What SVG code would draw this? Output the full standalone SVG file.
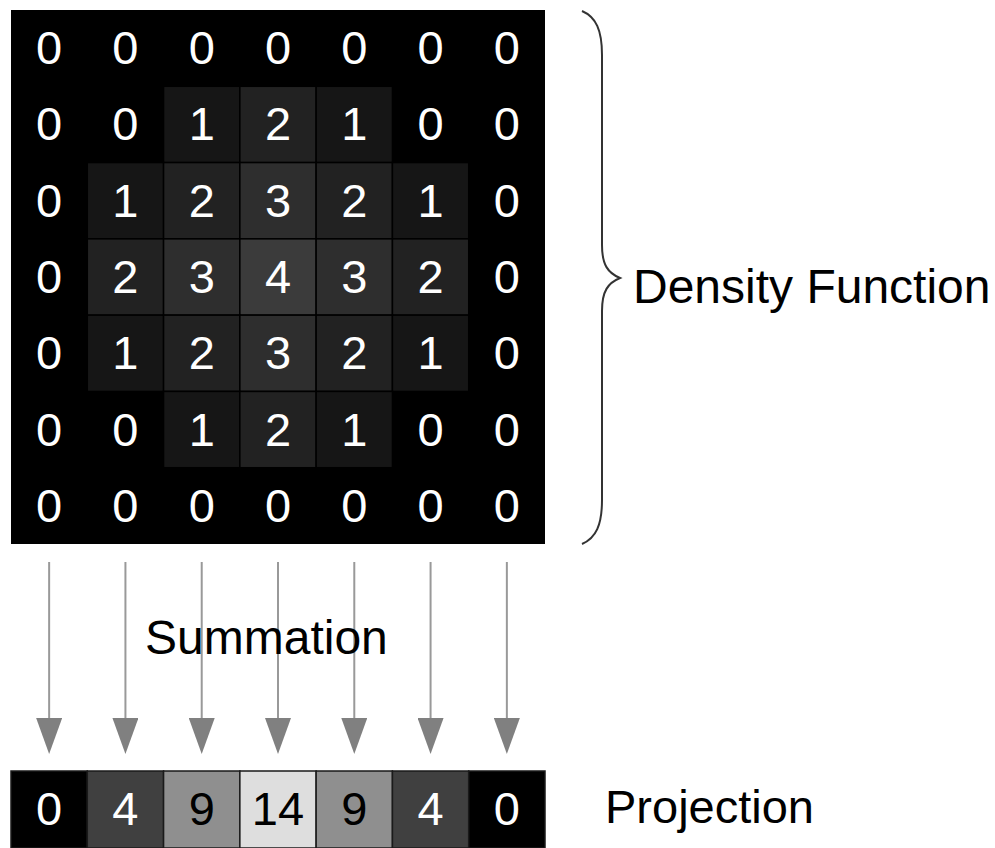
<svg xmlns="http://www.w3.org/2000/svg" width="995" height="848" viewBox="0 0 995 848">
<style>
.cell{stroke:#000;stroke-width:1.5}
.v1{fill:#161616}.v2{fill:#222222}.v3{fill:#2e2e2e}.v4{fill:#3b3b3b}
.num{font-family:"Liberation Sans",Arial,sans-serif;font-size:47px;text-anchor:middle;fill:#fff}
.dark{fill:#000}
.lbl{font-family:"Liberation Sans",Arial,sans-serif;fill:#000}
.pcell{stroke:#1a1a1a;stroke-width:1.5}
.conn{stroke:#999;stroke-width:2;fill:none;marker-end:url(#ah)}
</style>
<defs>
<marker id="ah" markerUnits="userSpaceOnUse" viewBox="0 -13 36 26" refX="0" refY="0" markerWidth="36" markerHeight="26" orient="auto">
<path d="M0,-13 L36,0 L0,13 Z" fill="#808080"/>
</marker>
</defs>
<rect x="0" y="0" width="995" height="848" fill="#fff"/>
<g id="density-grid">
<rect x="11" y="10" width="534" height="534" fill="#000"/>
<g id="r1c2"><rect class="cell v1" x="163.57" y="86.29" width="76.29" height="76.29"/></g>
<g id="r1c3"><rect class="cell v2" x="239.86" y="86.29" width="76.29" height="76.29"/></g>
<g id="r1c4"><rect class="cell v1" x="316.14" y="86.29" width="76.29" height="76.29"/></g>
<g id="r2c1"><rect class="cell v1" x="87.29" y="162.57" width="76.29" height="76.29"/></g>
<g id="r2c2"><rect class="cell v2" x="163.57" y="162.57" width="76.29" height="76.29"/></g>
<g id="r2c3"><rect class="cell v3" x="239.86" y="162.57" width="76.29" height="76.29"/></g>
<g id="r2c4"><rect class="cell v2" x="316.14" y="162.57" width="76.29" height="76.29"/></g>
<g id="r2c5"><rect class="cell v1" x="392.43" y="162.57" width="76.29" height="76.29"/></g>
<g id="r3c1"><rect class="cell v2" x="87.29" y="238.86" width="76.29" height="76.29"/></g>
<g id="r3c2"><rect class="cell v3" x="163.57" y="238.86" width="76.29" height="76.29"/></g>
<g id="r3c3"><rect class="cell v4" x="239.86" y="238.86" width="76.29" height="76.29"/></g>
<g id="r3c4"><rect class="cell v3" x="316.14" y="238.86" width="76.29" height="76.29"/></g>
<g id="r3c5"><rect class="cell v2" x="392.43" y="238.86" width="76.29" height="76.29"/></g>
<g id="r4c1"><rect class="cell v1" x="87.29" y="315.14" width="76.29" height="76.29"/></g>
<g id="r4c2"><rect class="cell v2" x="163.57" y="315.14" width="76.29" height="76.29"/></g>
<g id="r4c3"><rect class="cell v3" x="239.86" y="315.14" width="76.29" height="76.29"/></g>
<g id="r4c4"><rect class="cell v2" x="316.14" y="315.14" width="76.29" height="76.29"/></g>
<g id="r4c5"><rect class="cell v1" x="392.43" y="315.14" width="76.29" height="76.29"/></g>
<g id="r5c2"><rect class="cell v1" x="163.57" y="391.43" width="76.29" height="76.29"/></g>
<g id="r5c3"><rect class="cell v2" x="239.86" y="391.43" width="76.29" height="76.29"/></g>
<g id="r5c4"><rect class="cell v1" x="316.14" y="391.43" width="76.29" height="76.29"/></g>
<g id="grid-numbers" class="num">
<text x="49.14" y="64">0</text><text x="125.43" y="64">0</text><text x="201.71" y="64">0</text><text x="278" y="64">0</text><text x="354.29" y="64">0</text><text x="430.57" y="64">0</text><text x="506.86" y="64">0</text>
<text x="49.14" y="140.4">0</text><text x="125.43" y="140.4">0</text><text x="201.71" y="140.4">1</text><text x="278" y="140.4">2</text><text x="354.29" y="140.4">1</text><text x="430.57" y="140.4">0</text><text x="506.86" y="140.4">0</text>
<text x="49.14" y="216.7">0</text><text x="125.43" y="216.7">1</text><text x="201.71" y="216.7">2</text><text x="278" y="216.7">3</text><text x="354.29" y="216.7">2</text><text x="430.57" y="216.7">1</text><text x="506.86" y="216.7">0</text>
<text x="49.14" y="293">0</text><text x="125.43" y="293">2</text><text x="201.71" y="293">3</text><text x="278" y="293">4</text><text x="354.29" y="293">3</text><text x="430.57" y="293">2</text><text x="506.86" y="293">0</text>
<text x="49.14" y="369.3">0</text><text x="125.43" y="369.3">1</text><text x="201.71" y="369.3">2</text><text x="278" y="369.3">3</text><text x="354.29" y="369.3">2</text><text x="430.57" y="369.3">1</text><text x="506.86" y="369.3">0</text>
<text x="49.14" y="445.6">0</text><text x="125.43" y="445.6">0</text><text x="201.71" y="445.6">1</text><text x="278" y="445.6">2</text><text x="354.29" y="445.6">1</text><text x="430.57" y="445.6">0</text><text x="506.86" y="445.6">0</text>
<text x="49.14" y="521.9">0</text><text x="125.43" y="521.9">0</text><text x="201.71" y="521.9">0</text><text x="278" y="521.9">0</text><text x="354.29" y="521.9">0</text><text x="430.57" y="521.9">0</text><text x="506.86" y="521.9">0</text>
</g>
</g>
<g id="brace">
<path d="M582,11 C596,17 602,30 602,55 L602,245 C602,265 608,273 620,278 C608,283 602,291 602,311 L602,500 C602,525 596,538 582,544" fill="none" stroke="#333" stroke-width="2"/>
</g>
<g id="label-density"><text class="lbl" x="633" y="303" font-size="48">Density Function</text></g>
<g id="connectors">
<line class="conn" x1="49.14" y1="562" x2="49.14" y2="718"/>
<line class="conn" x1="125.43" y1="562" x2="125.43" y2="718"/>
<line class="conn" x1="201.71" y1="562" x2="201.71" y2="718"/>
<line class="conn" x1="278" y1="562" x2="278" y2="718"/>
<line class="conn" x1="354.29" y1="562" x2="354.29" y2="718"/>
<line class="conn" x1="430.57" y1="562" x2="430.57" y2="718"/>
<line class="conn" x1="506.86" y1="562" x2="506.86" y2="718"/>
</g>
<g id="label-summation"><text class="lbl" x="145" y="654" font-size="48">Summation</text></g>
<g id="projection">
<g id="p0"><rect class="pcell" x="11" y="771" width="76.29" height="77" fill="#000"/><text class="num" x="49.14" y="825">0</text></g>
<g id="p1"><rect class="pcell" x="87.29" y="771" width="76.29" height="77" fill="#404040"/><text class="num" x="125.43" y="825">4</text></g>
<g id="p2"><rect class="pcell" x="163.57" y="771" width="76.29" height="77" fill="#8f8f8f"/><text class="num dark" x="201.71" y="825">9</text></g>
<g id="p3"><rect class="pcell" x="239.86" y="771" width="76.29" height="77" fill="#dedede"/><text class="num dark" x="278" y="825">14</text></g>
<g id="p4"><rect class="pcell" x="316.14" y="771" width="76.29" height="77" fill="#8f8f8f"/><text class="num dark" x="354.29" y="825">9</text></g>
<g id="p5"><rect class="pcell" x="392.43" y="771" width="76.29" height="77" fill="#404040"/><text class="num" x="430.57" y="825">4</text></g>
<g id="p6"><rect class="pcell" x="468.71" y="771" width="76.29" height="77" fill="#000"/><text class="num" x="506.86" y="825">0</text></g>
</g>
<g id="label-projection"><text class="lbl" x="605" y="823" font-size="47">Projection</text></g>
</svg>
